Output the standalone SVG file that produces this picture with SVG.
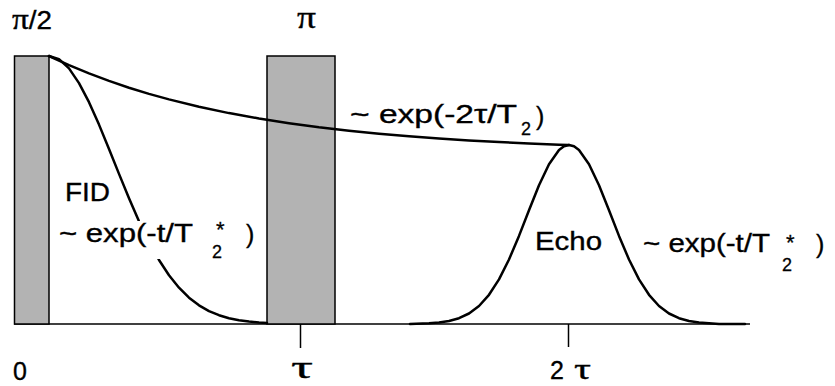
<svg xmlns="http://www.w3.org/2000/svg" width="835" height="386" viewBox="0 0 835 386">
<style>
.pulse{fill:#b3b3b3;stroke:#000;stroke-width:1.5}
.axis{fill:none;stroke:#000;stroke-width:1.5}
.curve{fill:none;stroke:#000;stroke-width:2.5;stroke-linejoin:round;stroke-linecap:round}
.t{font-family:"Liberation Sans",Arial,sans-serif;font-size:25px;fill:#000;stroke:#000;stroke-width:0.35}
.s{font-family:"Liberation Sans",Arial,sans-serif;font-size:18px;fill:#000;stroke:#000;stroke-width:0.3}
.a{font-family:"Liberation Sans",Arial,sans-serif;font-size:22px;fill:#000;stroke:#000;stroke-width:0.3}
.g{font-family:"Liberation Serif","Times New Roman",serif;fill:#000;stroke:#000;stroke-width:0.35}
</style>
<rect width="835" height="386" fill="#fff"/>
<g id="axis">
<line class="axis" x1="14" y1="324" x2="750" y2="324"/>
<line class="axis" x1="300.5" y1="324" x2="300.5" y2="348"/>
<line class="axis" x1="568.5" y1="324" x2="568.5" y2="347"/>
</g>
<g id="pulse90"><rect class="pulse" x="14.5" y="56" width="34.5" height="268"/></g>
<g id="pulse180"><rect class="pulse" x="267" y="56" width="68" height="268"/></g>
<g id="connectors">
<polyline id="fid" class="curve" points="49,56 59,59.2 69,68.4 79,83.1 89,102.2 99,124.6 109,149 119,173.9 129,198.3 139,221.3 149,241.9 159,260 169,275.3 179,287.7 189,297.7 199,305.3 209,311.1 219,315.2 229,318.2 239,320.3 249,321.6 259,322.5 267,323"/>
<polyline id="t2" class="curve" points="49,56 59,60.7 69,65.2 89,73.4 109,80.9 129,87.7 149,93.9 169,99.4 199,106.8 229,113.1 259,118.5 289,123.2 319,127.3 349,130.7 379,133.7 409,136.3 439,138.5 469,140.4 499,142.1 529,143.5 559,144.7 569,145"/>
<polyline id="echo" class="curve" points="410,324 429,323.3 439,322.5 449,321 459,318.2 469,313.5 479,306 489,294.8 499,279.4 509,259.5 519,235.9 529,210.3 539,185.3 549,164.2 559,150 564,146.3 569,145 574,146.3 579,150 589,164.2 599,185.3 609,210.3 619,235.9 629,259.5 639,279.4 649,294.8 659,306 669,313.5 679,318.2 689,321 699,322.5 709,323.3 719,324 745,324"/>
</g>
<g id="labels">
<rect x="56" y="221" width="196" height="38" fill="#fff"/>
<text x="12" y="29" class="t" textLength="40" lengthAdjust="spacingAndGlyphs"><tspan class="g" font-size="30">π</tspan>/2</text>
<text x="297" y="28" class="g" font-size="32" textLength="19" lengthAdjust="spacingAndGlyphs">π</text>
<text x="350" y="123" class="t" textLength="167" lengthAdjust="spacingAndGlyphs">~ exp(-2τ/T</text>
<text x="521" y="135" class="s">2</text>
<text x="536" y="125" class="t">)</text>
<text x="65" y="201" class="t" textLength="45" lengthAdjust="spacingAndGlyphs">FID</text>
<text x="59" y="242" class="t" textLength="134" lengthAdjust="spacingAndGlyphs">~ exp(-t/T</text>
<text x="212" y="258" class="s">2</text>
<text x="216" y="237" class="a">*</text>
<text x="246" y="243" class="t">)</text>
<text x="535" y="250" class="t" textLength="67" lengthAdjust="spacingAndGlyphs">Echo</text>
<text x="643" y="252" class="t" textLength="127" lengthAdjust="spacingAndGlyphs">~ exp(-t/T</text>
<text x="782" y="271" class="s">2</text>
<text x="786" y="250" class="a">*</text>
<text x="816" y="253" class="t">)</text>
<text x="13" y="380" class="t">0</text>
<text x="291" y="378" class="g" font-size="32" textLength="22" lengthAdjust="spacingAndGlyphs">τ</text>
<text x="550" y="379" class="t">2</text>
<text x="574" y="379" class="g" font-size="30" textLength="17" lengthAdjust="spacingAndGlyphs">τ</text>
</g>
</svg>
